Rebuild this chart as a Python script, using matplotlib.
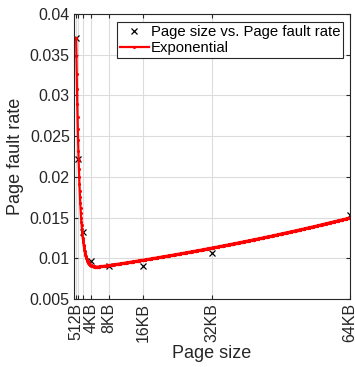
import numpy as np
import matplotlib
matplotlib.use("Agg")
import matplotlib.pyplot as plt

plt.rcParams['font.family'] = ['Liberation Sans', 'DejaVu Sans']

# measured points
page_size = [512, 1024, 2048, 4096, 8192, 16384, 32768, 65536]
fault_rate = [0.0371, 0.0222, 0.0132, 0.0097, 0.0090, 0.0091, 0.0106, 0.0153]

tick_pos = [512, 1024, 2048, 4096, 8192, 16384, 32768, 65536]
tick_lbl = ['512B', '', '', '4KB', '8KB', '16KB', '32KB', '64KB']

# two-term exponential fit a*exp(b*x) + c*exp(d*x) (coefficients)
fit_a, fit_b = 0.0549, -1.28e-3
fit_c, fit_d = 0.00851, 8.64e-6

xf = np.linspace(page_size[0], page_size[-1], 1000)
yf = fit_a * np.exp(fit_b * xf) + fit_c * np.exp(fit_d * xf)

fig = plt.figure(figsize=(3.55, 3.67), dpi=100)
ax = fig.add_axes([74 / 355, 68 / 367, 276 / 355, 285 / 367])

ax.plot(page_size, fault_rate, 'x', color='black', markersize=4, markeredgewidth=0.9,
        label='Page size vs. Page fault rate')
ax.plot(xf, yf, '.-', color='red', linewidth=1.6, markersize=2.5,
        label='Exponential')

ax.set_xlim(0, 65536)
ax.set_ylim(0.005, 0.04)
ax.set_xticks(tick_pos)
ax.set_xticklabels(tick_lbl, rotation=90)
ax.set_yticks(np.arange(0.005, 0.0401, 0.005))
ax.set_yticklabels(['0.005', '0.01', '0.015', '0.02', '0.025', '0.03', '0.035', '0.04'])

ax.grid(True, color='#dcdcdc', linewidth=0.8)
ax.set_axisbelow(True)
ax.tick_params(direction='in', length=3, top=True, right=True, labelsize=11.5,
               colors='#262626', labelcolor='#262626', pad=3)
for s in ax.spines.values():
    s.set_color('#262626')
    s.set_linewidth(0.8)

ax.set_xlabel('Page size', fontsize=13, color='#262626', labelpad=2)
ax.set_ylabel('Page fault rate', fontsize=13, color='#262626', labelpad=4)

leg = ax.legend(loc='upper right', bbox_to_anchor=(0.9757, 0.971), borderaxespad=0,
                fontsize=10.7, frameon=True, fancybox=False, edgecolor='#262626',
                framealpha=1, handlelength=2.0, handletextpad=0.1,
                borderpad=0.2, labelspacing=0.1)
leg.get_frame().set_linewidth(0.8)

fig.savefig('out.png', dpi=100)
